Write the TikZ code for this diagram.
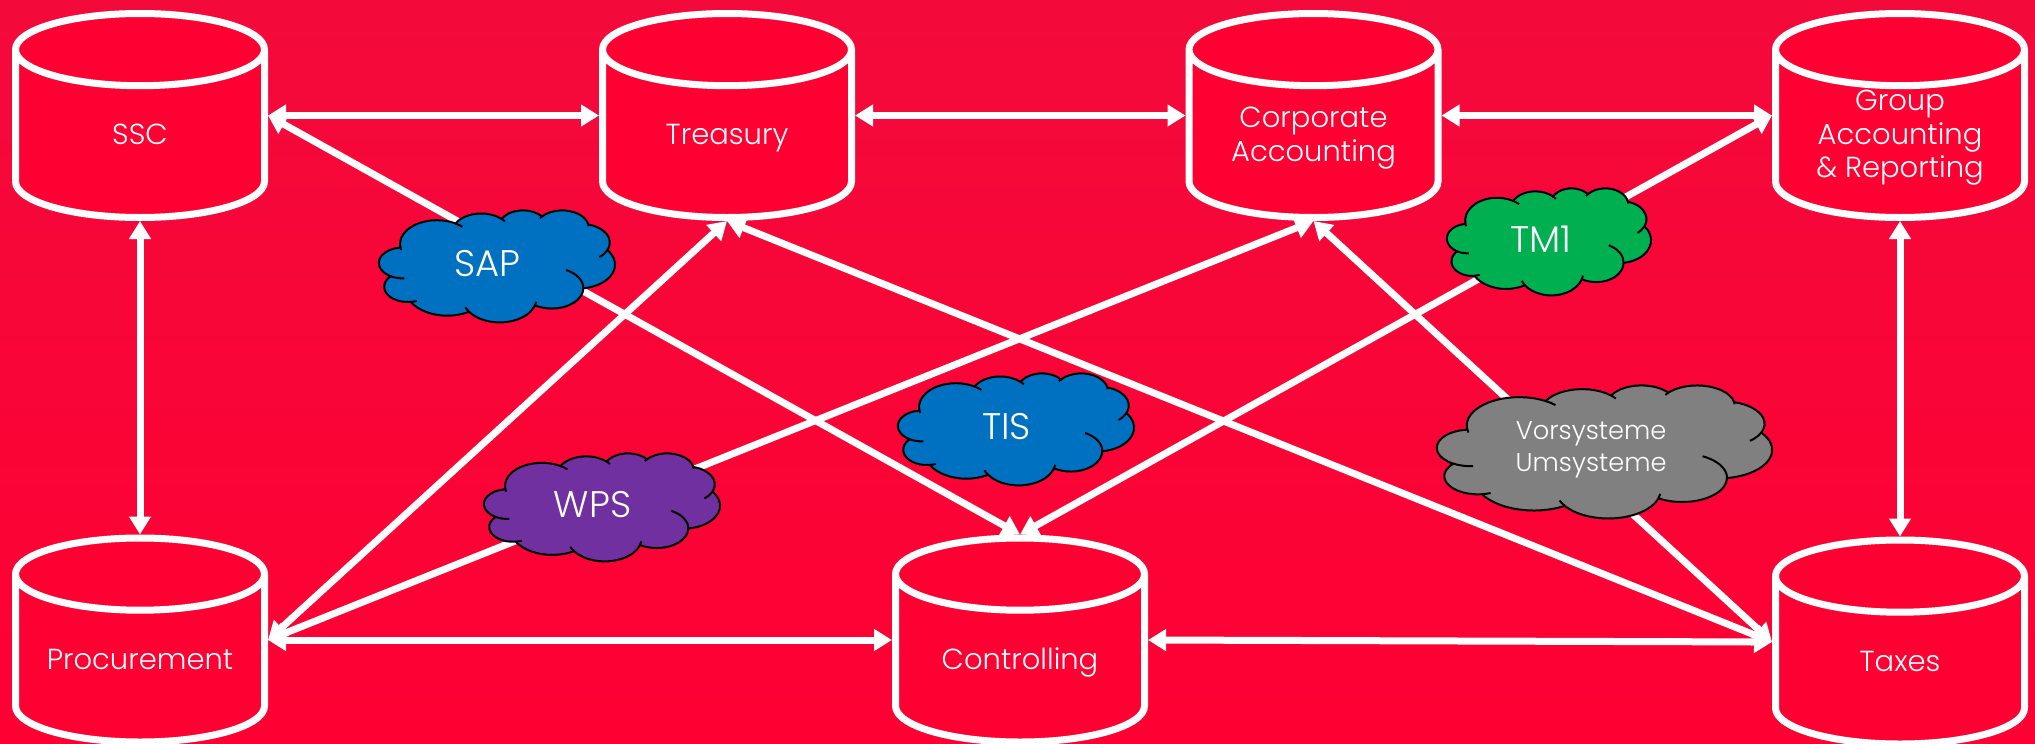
\documentclass[tikz,border=0pt]{standalone}
\usepackage{fontspec}
\setmainfont{Poppins Light}
\usetikzlibrary{arrows.meta,shapes.geometric}
\definecolor{cylred}{HTML}{FF0033}
\definecolor{bgtop}{HTML}{F30A3B}
\definecolor{sapblue}{HTML}{0070C0}
\definecolor{wpspurple}{HTML}{7030A0}
\definecolor{tmgreen}{HTML}{00B050}
\definecolor{vorsgray}{HTML}{808080}
\newcommand{\dbstrut}{\vphantom{lg}}
\tikzset{
	dbcyl/.style={cylinder,shape border rotate=90,shape aspect=0.29,draw=white,line width=7pt,fill=cylred,
		anchor=shape center,minimum width=248pt,minimum height=204pt,text width=249pt,inner sep=0pt},
	dbtext/.style={text=white,align=center,inner sep=0pt,yshift=-2.6pt,font=\fontsize{29}{33.7}\selectfont,
		execute at begin node=\dbstrut,execute at end node=\dbstrut},
	link/.style={<->,white,line width=7pt},
	cloudtext/.style={text=white,align=center,inner sep=0pt}
}
\pgfmathdeclarefunction{cloudang}{3}{\pgfmathparse{atan2(#1*sin(#3),#2*cos(#3))}}
\pgfmathdeclarefunction{cloudspan}{4}{\pgfmathparse{#4>0 ? mod(cloudang(#1,#2,#3+#4)-cloudang(#1,#2,#3)+720,360) : -mod(cloudang(#1,#2,#3)-cloudang(#1,#2,#3+#4)+720,360)}}
\def\cloudarcs{67.53/91.90/-190.487/123.781,53.33/72.67/-144.102/89.945,43.65/59.45/-145.808/99.723,48.57/65.95/-130.986/117.242,53.33/72.73/-78.709/109.027,67.75/92.20/-46.267/130.269,57.85/78.67/0.625/114.033,67.52/92.15/22.452/115.173,77.20/105.43/66.243/75.711,43.60/59.18/-274.942/146.736,43.45/59.45/-246.829/152.519}
% name, left, top, width, height, colour, size, text
\newcommand{\drawcloud}[8]{
	\begin{scope}[shift={(#2,#3)},xscale=#4/432,yscale=#5/432]
		\path[fill=#6,draw=black,line width=2pt] (39,143.7) coordinate (j0)
			\foreach \wR/\hR/\stA/\swA [count=\i] in \cloudarcs {
				arc[x radius=\wR pt,y radius=\hR pt,start angle={cloudang(\wR,\hR,\stA)},delta angle={cloudspan(\wR,\hR,\stA,\swA)}] coordinate (j\i)
			} -- cycle;
		% inner strokes of the puffs
		\foreach \jn/\wR/\hR/\stA/\swA in {0/67.53/91.90/169.513/-9,1/67.53/91.90/-66.706/12,2/53.33/72.67/-54.157/10,3/48.57/65.95/-130.986/-8,4/48.57/65.95/-13.744/8,5/53.33/72.73/30.318/28,6/57.85/78.67/0.625/-70,7/67.52/92.15/22.452/-12,8/67.52/92.15/137.625/14.08,9/43.60/59.18/85.06/-11.45,10/43.45/59.45/113.171/-26.43}
			\draw[black,line width=2pt] (j\jn) arc[x radius=\wR pt,y radius=\hR pt,start angle={cloudang(\wR,\hR,\stA)},delta angle={cloudspan(\wR,\hR,\stA,\swA)}];
	\end{scope}
	\node[cloudtext,font=\fontsize{#7}{32}\selectfont] (#1) at ({#2+0.46*#4},{#3+0.5*#5-2}) {#8};
}
\begin{document}
\begin{tikzpicture}[>={Triangle[length=18pt,width=21pt]},x=1pt,y=1pt,yscale=-1]
	\useasboundingbox (0,0) rectangle (2035,744);
	\shade[top color=bgtop,bottom color=cylred] (0,0) rectangle (2035,744);
	% top row
	\node[dbcyl] (ssc) at (140,115.5) {};
	\node[dbcyl] (treasury) at (727,115.5) {};
	\node[dbcyl] (corpacc) at (1313.5,115.5) {};
	\node[dbcyl] (groupacc) at (1900,115.5) {};
	% bottom row
	\node[dbcyl] (procure) at (140,640) {};
	\node[dbcyl] (ctrl) at (1020,640) {};
	\node[dbcyl] (taxes) at (1900,642) {};
	\node[dbtext] (ssclabel) at (ssc.center) {SSC};
	\node[dbtext] (treasurylabel) at (treasury.center) {Treasury};
	\node[dbtext] (corplabel) at (corpacc.center) {Corporate\\Accounting};
	\node[dbtext] (grouplabel) at (groupacc.center) {Group\\Accounting\\\& Reporting};
	\node[dbtext] (procurelabel) at (procure.center) {Procurement};
	\node[dbtext] (ctrllabel) at (ctrl.center) {Controlling};
	\node[dbtext] (taxeslabel) at (taxes.center) {Taxes};
	% side points at the height of the shape centre
	\foreach \n in {ssc,treasury,corpacc,groupacc,procure,ctrl,taxes}{
		\coordinate (\n E) at (\n.shape center -| \n.east);
		\coordinate (\n W) at (\n.shape center -| \n.west);
	}
	% connectors
	\draw[link] (sscE) -- (treasuryW);
	\draw[link] (treasuryE) -- (corpaccW);
	\draw[link] (corpaccE) -- (groupaccW);
	\draw[link] (ssc.south) -- (procure.north);
	\draw[link] (groupacc.south) -- (taxes.north);
	\draw[link] (procureE) -- (ctrlW);
	\draw[link] (ctrlE) -- (taxesW);
	\draw[link] (sscE) -- (ctrl.north);
	\draw[link] (treasury.south) -- (procureE);
	\draw[link] (treasury.south) -- (taxesW);
	\draw[link] (corpacc.south) -- (procureE);
	\draw[link] (corpacc.south) -- (taxesW);
	\draw[link] (groupaccW) -- (ctrl.north);
	% clouds on top of the lines
	\drawcloud{sap}{379}{210}{236}{112}{sapblue}{37}{SAP}
	\drawcloud{tis}{898}{373}{236}{112}{sapblue}{37}{TIS}
	\drawcloud{wps}{484}{453}{236}{108}{wpspurple}{37}{WPS}
	\drawcloud{tmone}{1447}{188}{204}{107}{tmgreen}{37}{TM1}
	\drawcloud{vors}{1437}{385}{335}{133}{vorsgray}{25.7}{Vorsysteme\\Umsysteme}
\end{tikzpicture}
\end{document}
